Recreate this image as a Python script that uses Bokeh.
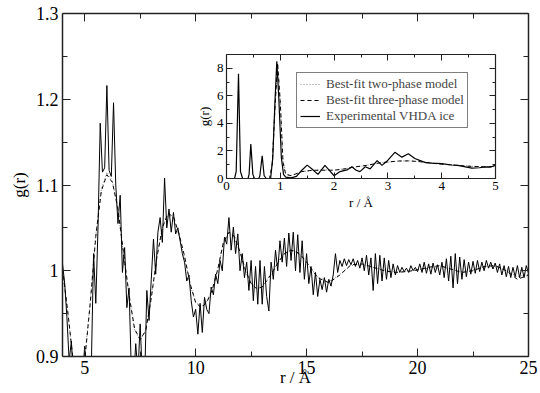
import numpy as np
from bokeh.plotting import figure
from bokeh.models import (Range1d, FixedTicker, LinearAxis, CustomJSTickFormatter,
                          Legend, LegendItem)
from bokeh.embed import file_html
from bokeh.resources import INLINE

FONT = "Liberation Serif"

# ---------------- main panel data ----------------
# experimental g(r), sampled every 0.1 A from 4.0 to 25.0
exp_g_a = [1.008, 0.985, 0.945, 0.895, 0.918, 0.87, 0.855, 0.85, 0.86, 0.875, 0.912, 0.87, 0.875, 0.89]
exp_g_b = [1.02, 0.962, 1.05, 1.172, 1.115, 1.12, 1.216, 1.117, 1.11, 1.196, 1.10, 1.055, 1.088, 0.998, 1.027, 0.957]
exp_g_c = [0.98, 0.885, 0.87, 0.915, 0.88, 0.938, 0.875, 0.87, 0.977, 0.942,
           0.99, 1.037, 0.996, 1.045, 1.062, 1.033, 1.108, 1.05, 1.072, 1.045,
           1.068, 1.043, 1.05, 1.035, 1.02, 1.01, 0.988, 0.995]
exp_g_d = [0.965, 0.946, 0.955, 0.926, 0.962, 0.928, 0.969, 0.955, 0.95, 0.981, 0.972, 0.996,
           0.985, 1.012, 1.0, 1.039, 1.031, 1.062, 1.024, 1.051, 1.02, 1.043,
           1.0, 1.02, 0.992, 1.01, 0.977, 1.012, 0.965, 1.005, 0.961, 1.012,
           0.961, 1.005, 0.97, 0.953, 1.01, 0.99, 1.024, 1.0, 1.035, 1.01,
           1.038, 1.005, 1.044, 1.012, 1.045, 1.0, 1.042, 0.998, 1.035, 0.99,
           1.02]
exp_g_e = [0.985, 1.005, 0.972, 0.998, 0.97, 0.99, 0.978, 0.992, 0.975, 0.99,
           0.982, 0.995, 1.02, 0.998, 1.012, 1.005, 1.014, 1.006, 1.013, 1.007,
           1.014, 1.005, 1.012, 1.003, 1.015, 1.0, 1.018, 0.995, 1.015, 0.977,
           1.02, 0.985, 1.018, 0.988, 1.015, 0.99, 1.012, 0.992, 1.008, 0.995,
           1.006, 0.998, 1.004, 0.999, 1.003, 0.998, 1.006, 1.0, 1.004, 0.999,
           1.008, 0.998, 1.01, 0.997, 1.008, 0.996, 1.009, 0.998, 1.007, 0.995,
           1.01, 0.992, 1.014, 0.988, 1.017, 0.98, 1.02, 0.985, 1.016, 0.99,
           1.013, 0.993, 1.01, 0.996, 1.011, 0.997, 1.012, 0.999, 1.01, 1.0,
           1.012, 1.003, 1.01, 1.002, 1.009, 0.998, 1.008, 0.995, 1.006, 0.993,
           1.005, 0.992, 1.004, 0.993, 1.006, 0.992, 1.004, 0.992, 1.006, 0.997]
exp_g = exp_g_a + exp_g_b + exp_g_c + exp_g_d + exp_g_e
exp_r = np.round(np.arange(len(exp_g)) * 0.1 + 4.0, 1)

fit_r = [4.0, 4.25, 4.5, 4.75, 5.0, 5.25, 5.5, 5.75, 6.0, 6.25, 6.5, 6.75, 7.0, 7.25, 7.5,
         7.75, 8.0, 8.25, 8.5, 8.75, 9.0, 9.25, 9.5, 9.75, 10.0, 10.25, 10.5, 10.75, 11.0,
         11.25, 11.5, 11.75, 12.0, 12.25, 12.5, 12.75, 13.0, 13.25, 13.5, 13.75, 14.0,
         14.25, 14.5, 14.75, 15.0, 15.5, 16.0, 16.5, 17.0, 17.5, 18.0, 18.5, 19.0, 19.5,
         20.0, 20.5, 21.0, 21.5, 22.0, 22.5, 23.0, 23.5, 24.0, 24.5, 25.0]
three_g = [1.002, 0.95, 0.89, 0.85, 0.895, 0.962, 1.04, 1.093, 1.112, 1.103, 1.072, 1.021,
           0.972, 0.932, 0.92, 0.93, 0.968, 1.015, 1.05, 1.067, 1.063, 1.043, 1.017, 0.985,
           0.963, 0.957, 0.963, 0.978, 1.002, 1.033, 1.045, 1.04, 1.022, 1.0, 0.985, 0.979,
           0.981, 0.99, 1.0, 1.011, 1.02, 1.024, 1.023, 1.018, 1.01,
           0.992, 0.986, 0.995, 1.007, 1.008, 1.004, 1.0, 0.998, 0.999, 1.001, 1.004, 1.006,
           1.002, 0.998, 1.0, 1.005, 1.006, 1.0, 0.99, 0.995]
two_g = [1.0, 0.948, 0.888, 0.852, 0.897, 0.965, 1.042, 1.095, 1.115, 1.105, 1.07, 1.019,
         0.97, 0.931, 0.918, 0.931, 0.97, 1.016, 1.051, 1.066, 1.061, 1.041, 1.015, 0.984,
         0.963, 0.958, 0.964, 0.979, 1.003, 1.032, 1.044, 1.039, 1.021, 1.0, 0.986, 0.98,
         0.982, 0.991, 1.001, 1.011, 1.019, 1.023, 1.022, 1.017, 1.009,
         0.993, 0.987, 0.996, 1.006, 1.007, 1.004, 1.001, 0.999, 0.999, 1.001, 1.003, 1.005,
         1.002, 0.999, 1.001, 1.004, 1.005, 1.0, 0.993, 0.996]

main_xticks = [5, 10, 15, 20, 25]
main_xminor = [7.5, 12.5, 17.5, 22.5]
main_yticks = [0.9, 1.0, 1.1, 1.2, 1.3]
main_yminor = [0.95, 1.05, 1.15, 1.25]

# ---------------- inset data ----------------
ins_exp_r = [0, 0.15, 0.18, 0.223, 0.26, 0.3, 0.4, 0.42, 0.452, 0.49, 0.52, 0.6, 0.62, 0.663,
             0.70, 0.74, 0.82, 0.86, 0.9, 0.935, 0.97, 1.02, 1.06, 1.1, 1.2, 1.3, 1.4, 1.5,
             1.6, 1.7, 1.83, 1.92, 2.0, 2.11, 2.24, 2.33, 2.41, 2.48, 2.58, 2.67, 2.8, 2.89,
             2.98, 3.13, 3.26, 3.38, 3.5, 3.6, 3.7, 3.82, 4.0, 4.19, 4.3, 4.44, 4.56, 4.7,
             4.81, 4.9, 5.0]
ins_exp_g = [0, 0, 0.5, 7.6, 0.5, 0, 0, 0.3, 2.5, 0.3, 0, 0, 0.2, 1.65,
             0.2, 0, 0, 1.5, 5.5, 8.5, 6.0, 1.5, 0.3, 0.1, 0.05, 0.15, 0.6, 0.97,
             0.65, 0.3, 0.95, 0.55, 0.2, 0.5, 0.62, 0.85, 0.6, 0.5, 0.85, 0.7, 1.3, 0.95,
             1.25, 1.9, 1.55, 1.8, 1.45, 1.3, 1.15, 1.12, 1.08, 0.98, 0.95, 0.85, 0.75, 0.78,
             0.85, 0.83, 0.95]
ins_fit_r = [0, 0.8, 0.85, 0.9, 0.95, 1.0, 1.05, 1.1, 1.2, 1.4, 1.6, 1.8, 2.0, 2.2, 2.4,
             2.6, 2.8, 3.0, 3.2, 3.4, 3.6, 3.8, 4.0, 4.2, 4.4, 4.6, 4.8, 5.0]
ins_three_g = [0, 0, 1.0, 5.0, 8.4, 5.5, 1.2, 0.3, 0.2, 0.5, 0.6, 0.6, 0.6, 0.7, 0.85,
               0.95, 1.1, 1.2, 1.27, 1.28, 1.22, 1.12, 1.04, 0.98, 0.92, 0.87, 0.85, 0.87]
ins_two_g = [0, 0, 1.1, 5.2, 8.3, 5.7, 1.3, 0.35, 0.22, 0.5, 0.58, 0.62, 0.62, 0.7, 0.84,
             0.96, 1.1, 1.19, 1.26, 1.27, 1.21, 1.12, 1.04, 0.98, 0.93, 0.88, 0.86, 0.88]

ins_xticks = [0, 1, 2, 3, 4, 5]
ins_xminor = [0.5, 1.5, 2.5, 3.5, 4.5]
ins_yticks = [0, 2, 4, 6, 8]
ins_yminor = [1, 3, 5, 7]

legend_labels = ["Best-fit two-phase model", "Best-fit three-phase model", "Experimental VHDA ice"]

label_fmt = CustomJSTickFormatter(code="return String(tick)")
blank_fmt = CustomJSTickFormatter(code="return ''")


def style_axis(ax, ticks, minor, size, tin, mtin, show=True, width=1.5):
    ax.ticker = FixedTicker(ticks=ticks, minor_ticks=minor)
    ax.major_tick_in = tin
    ax.major_tick_out = 0
    ax.minor_tick_in = mtin
    ax.minor_tick_out = 0
    ax.axis_line_color = "#222222"
    ax.axis_line_width = width
    ax.major_tick_line_color = "#222222"
    ax.minor_tick_line_color = "#222222"
    ax.major_tick_line_width = 1
    ax.minor_tick_line_width = 1
    ax.major_label_text_font = FONT
    ax.axis_label_text_font = FONT
    ax.axis_label_text_font_style = "normal"
    ax.axis_label_text_color = "black"
    if show:
        ax.formatter = label_fmt
        ax.major_label_text_font_size = size
        ax.major_label_text_color = "black"
    else:
        ax.formatter = blank_fmt
        ax.major_label_text_font_size = "1px"
        ax.major_label_standoff = 0


# ---------------- main figure (placed at page origin) ----------------
main = figure(frame_width=466, frame_height=343, x_range=Range1d(4, 25), y_range=Range1d(0.9, 1.3),
              output_backend="svg", toolbar_location=None,
              min_border_left=62, min_border_right=10, min_border_top=13, min_border_bottom=37,
              background_fill_color="white", border_fill_color="white", outline_line_color=None,
              styles={"position": "absolute", "left": "0px", "top": "0px"})
main.xgrid.visible = False
main.ygrid.visible = False

style_axis(main.xaxis[0], main_xticks, main_xminor, "18px", 8, 5)
style_axis(main.yaxis[0], main_yticks, main_yminor, "18px", 8, 5)
main.xaxis[0].major_label_standoff = 4
main.xaxis[0].axis_label = "r / Å"
main.xaxis[0].axis_label_text_font_size = "17px"
main.xaxis[0].axis_label_standoff = -9
main.yaxis[0].major_label_standoff = 4
main.yaxis[0].axis_label = "g(r)"
main.yaxis[0].axis_label_text_font_size = "17px"
main.yaxis[0].axis_label_standoff = 4

top_ax = LinearAxis()
style_axis(top_ax, main_xticks, main_xminor, "18px", 8, 5, show=False)
main.add_layout(top_ax, "above")
right_ax = LinearAxis()
style_axis(right_ax, main_yticks, main_yminor, "18px", 8, 5, show=False)
main.add_layout(right_ax, "right")

main.line(fit_r, two_g, color="#888888", line_width=1, line_dash="1 2")
main.line(fit_r, three_g, color="black", line_width=1, line_dash="4 3")
main.line(exp_r, exp_g, color="black", line_width=1)

# ---------------- inset figure ----------------
inset = figure(frame_width=269, frame_height=124, x_range=Range1d(0, 5), y_range=Range1d(0, 9),
               output_backend="svg", toolbar_location=None,
               min_border_left=25, min_border_right=4, min_border_top=4, min_border_bottom=34,
               background_fill_color="white", border_fill_color=None, outline_line_color=None,
               styles={"position": "absolute", "left": "193px", "top": "50px"})
inset.xgrid.visible = False
inset.ygrid.visible = False
style_axis(inset.xaxis[0], ins_xticks, ins_xminor, "13px", 6, 3, width=1.2)
style_axis(inset.yaxis[0], ins_yticks, ins_yminor, "13px", 6, 3, width=1.2)
inset.xaxis[0].major_label_standoff = 3
inset.yaxis[0].major_label_standoff = 3
inset.xaxis[0].axis_label = "r / Å"
inset.xaxis[0].axis_label_text_font_size = "13px"
inset.xaxis[0].axis_label_standoff = 2
inset.yaxis[0].axis_label = "g(r)"
inset.yaxis[0].axis_label_text_font_size = "13px"
inset.yaxis[0].axis_label_standoff = 2

itop = LinearAxis()
style_axis(itop, ins_xticks, ins_xminor, "13px", 6, 3, show=False, width=1.2)
inset.add_layout(itop, "above")
iright = LinearAxis()
style_axis(iright, ins_yticks, ins_yminor, "13px", 6, 3, show=False, width=1.2)
inset.add_layout(iright, "right")

r2 = inset.line(ins_fit_r, ins_two_g, color="#888888", line_width=1, line_dash="1 2")
r3 = inset.line(ins_fit_r, ins_three_g, color="black", line_width=1, line_dash="4 3")
re = inset.line(ins_exp_r, ins_exp_g, color="black", line_width=1.2)

legend = Legend(items=[LegendItem(label=legend_labels[0], renderers=[r2]),
                       LegendItem(label=legend_labels[1], renderers=[r3]),
                       LegendItem(label=legend_labels[2], renderers=[re])],
                location=(70, 50), padding=3, spacing=0, glyph_height=14, label_height=14,
                glyph_width=20, label_standoff=6, label_text_font=FONT,
                label_text_font_size="13px", border_line_color="black", border_line_width=1,
                background_fill_color="white", background_fill_alpha=1.0, margin=0)
inset.add_layout(legend)

with open("out.html", "w") as f:
    f.write(file_html([main, inset], INLINE))
